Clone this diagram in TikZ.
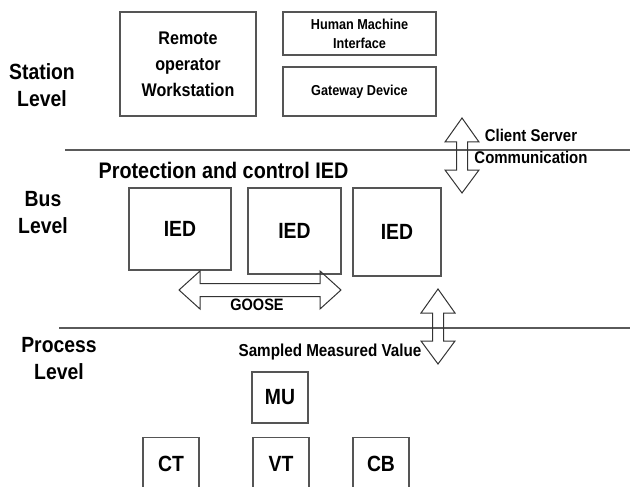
\documentclass[tikz,border=0pt]{standalone}
\usepackage{fontspec}
\setmainfont[FakeStretch=0.88]{Liberation Sans}
\definecolor{boxgray}{RGB}{85,85,85}
\definecolor{linegray}{RGB}{90,90,90}
\tikzset{
  box/.style={draw=boxgray, line width=1.3pt, inner sep=0pt, align=center},
  lvl/.style={align=center, font=\fontsize{22}{27}\selectfont\bfseries},
  sepline/.style={draw=linegray, line width=2pt},
  blockarrow/.style={draw=black!80, line width=1pt},
  bigtxt/.style={font=\fontsize{22}{26}\selectfont\bfseries},
}
\newcommand\vblock[3]{% cx, ytop, ybot
  \draw[blockarrow] (#1,#2) -- (#1+17,#2+24) -- (#1+5.5,#2+24) -- (#1+5.5,#3-23)
    -- (#1+17,#3-23) -- (#1,#3) -- (#1-17,#3-23) -- (#1-5.5,#3-23)
    -- (#1-5.5,#2+24) -- (#1-17,#2+24) -- cycle;}
\begin{document}
\begin{tikzpicture}[x=1pt,y=-1pt]
\path[use as bounding box, clip] (0,0) rectangle (630,487);

% level labels
\node[lvl] (station) at (42,85) {Station\\Level};
\node[lvl] (bus) at (43,213) {Bus\\Level};
\node[lvl] (process) at (59,359) {Process\\Level};

% separator lines
\coordinate (l1a) at (65,150);
\coordinate (l1b) at (632,150);
\coordinate (l2a) at (59,328);
\coordinate (l2b) at (632,328);
\draw[sepline] (l1a) -- (l1b);
\draw[sepline] (l2a) -- (l2b);

% station level
\node[box, minimum width=136pt, minimum height=104pt,
      font=\fontsize{18.3}{26}\selectfont\bfseries] (row) at (188,64)
      {Remote\\operator\\Workstation};
\node[box, minimum width=153pt, minimum height=43pt,
      font=\fontsize{14.4}{19}\selectfont\bfseries] (hmi) at (359.5,33.5)
      {Human Machine\\Interface};
\node[box, minimum width=153pt, minimum height=49pt,
      font=\fontsize{14.4}{19}\selectfont\bfseries] (gw) at (359.5,91.5)
      {Gateway Device};

% client server arrow
\vblock{462}{118}{193}
\node[align=center, font=\fontsize{17}{22}\selectfont\bfseries] (cs) at (531,146)
      {Client Server\\Communication};

% bus level
\node[font=\fontsize{22.5}{26}\selectfont\bfseries] (pc) at (223.5,170)
      {Protection and control IED};
\node[box, bigtxt, minimum width=102pt, minimum height=82pt] (ied1) at (180,229) {IED};
\node[box, bigtxt, minimum width=93pt, minimum height=86pt] (ied2) at (294.5,231) {IED};
\node[box, bigtxt, minimum width=88pt, minimum height=88pt] (ied3) at (397,232) {IED};

% GOOSE arrow
\draw[blockarrow] (179,290) -- (200,271) -- (200,283.5) -- (320,283.5) -- (320,271)
   -- (341,290) -- (320,309) -- (320,296.5) -- (200,296.5) -- (200,309) -- cycle;
\node[font=\fontsize{16.5}{20}\selectfont\bfseries] (goose) at (257,305) {GOOSE};

% SMV arrow
\vblock{438}{289}{364}
\node[font=\fontsize{17.3}{20}\selectfont\bfseries] (smv) at (330,352)
      {Sampled Measured Value};

% process level
\node[box, bigtxt, minimum width=56pt, minimum height=51pt] (mu) at (280,397.5) {MU};
\node[box, bigtxt, minimum width=56pt, minimum height=52pt, anchor=north] (ct) at (171,437) {CT};
\node[box, bigtxt, minimum width=56pt, minimum height=52pt, anchor=north] (vt) at (281,437) {VT};
\node[box, bigtxt, minimum width=56pt, minimum height=52pt, anchor=north] (cb) at (381,437) {CB};
\end{tikzpicture}
\end{document}
